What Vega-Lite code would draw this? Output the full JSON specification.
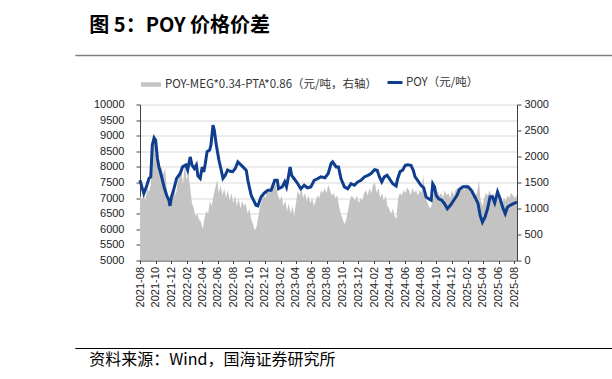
{
  "$schema": "https://vega.github.io/schema/vega-lite/v6.json",
  "background": "white",
  "padding": {"left": 74, "top": 15.5, "right": 0, "bottom": 5},
  "spacing": 13,
  "columns": 1,
  "align": "none",
  "config": {"axisX": {"labelOverlap": false}},
  "datasets": {
    "poy": [
      {"d":"2021-08-01","v":7575},{"d":"2021-08-10","v":7310},{"d":"2021-08-16","v":7150},{"d":"2021-08-26","v":7360},
      {"d":"2021-09-05","v":7630},{"d":"2021-09-12","v":7680},{"d":"2021-09-18","v":8700},{"d":"2021-09-25","v":8930},
      {"d":"2021-10-01","v":8860},{"d":"2021-10-08","v":8270},{"d":"2021-10-14","v":8000},{"d":"2021-10-23","v":7730},
      {"d":"2021-11-03","v":7360},{"d":"2021-11-13","v":7090},{"d":"2021-11-22","v":6930},{"d":"2021-11-26","v":6750},
      {"d":"2021-12-02","v":7040},{"d":"2021-12-12","v":7310},{"d":"2021-12-22","v":7630},{"d":"2022-01-05","v":7790},
      {"d":"2022-01-14","v":8000},{"d":"2022-01-27","v":8060},{"d":"2022-02-03","v":7900},{"d":"2022-02-13","v":8320},
      {"d":"2022-02-20","v":8060},{"d":"2022-03-01","v":7950},{"d":"2022-03-09","v":8060},{"d":"2022-03-15","v":7710},
      {"d":"2022-03-24","v":7630},{"d":"2022-04-01","v":8000},{"d":"2022-04-07","v":7840},{"d":"2022-04-13","v":8110},
      {"d":"2022-04-20","v":8490},{"d":"2022-04-30","v":8540},{"d":"2022-05-05","v":8700},{"d":"2022-05-13","v":9340},
      {"d":"2022-05-18","v":9180},{"d":"2022-05-26","v":8700},{"d":"2022-06-05","v":8220},{"d":"2022-06-14","v":7900},
      {"d":"2022-06-21","v":7630},{"d":"2022-06-30","v":7730},{"d":"2022-07-09","v":7900},{"d":"2022-07-19","v":7860},
      {"d":"2022-07-29","v":7850},{"d":"2022-08-08","v":7950},{"d":"2022-08-18","v":8160},{"d":"2022-09-07","v":8000},
      {"d":"2022-09-20","v":7890},{"d":"2022-09-26","v":7570},{"d":"2022-10-09","v":7090},{"d":"2022-10-28","v":6770},
      {"d":"2022-11-04","v":6750},{"d":"2022-11-17","v":7040},{"d":"2022-11-30","v":7165},{"d":"2022-12-13","v":7250},
      {"d":"2022-12-26","v":7250},{"d":"2023-01-09","v":7570},{"d":"2023-01-19","v":7570},{"d":"2023-01-24","v":7300},
      {"d":"2023-02-07","v":7360},{"d":"2023-02-17","v":7520},{"d":"2023-02-24","v":7360},{"d":"2023-03-02","v":7620},
      {"d":"2023-03-10","v":8000},{"d":"2023-03-16","v":7730},{"d":"2023-03-26","v":7620},{"d":"2023-04-09","v":7460},
      {"d":"2023-04-21","v":7300},{"d":"2023-05-04","v":7410},{"d":"2023-05-17","v":7330},{"d":"2023-05-30","v":7360},
      {"d":"2023-06-12","v":7570},{"d":"2023-06-25","v":7620},{"d":"2023-07-08","v":7680},{"d":"2023-07-24","v":7650},
      {"d":"2023-08-06","v":7790},{"d":"2023-08-17","v":8110},{"d":"2023-08-23","v":8160},{"d":"2023-09-06","v":8000},
      {"d":"2023-09-15","v":8000},{"d":"2023-09-25","v":7620},{"d":"2023-10-08","v":7360},{"d":"2023-10-21","v":7300},
      {"d":"2023-11-03","v":7460},{"d":"2023-11-16","v":7410},{"d":"2023-11-29","v":7520},{"d":"2023-12-12","v":7570},
      {"d":"2023-12-25","v":7680},{"d":"2024-01-08","v":7730},{"d":"2024-01-20","v":7790},{"d":"2024-02-03","v":7910},
      {"d":"2024-02-13","v":7890},{"d":"2024-02-22","v":7680},{"d":"2024-03-02","v":7520},{"d":"2024-03-12","v":7680},
      {"d":"2024-03-23","v":7730},{"d":"2024-04-01","v":7620},{"d":"2024-04-14","v":7460},{"d":"2024-04-27","v":7390},
      {"d":"2024-05-03","v":7620},{"d":"2024-05-13","v":7860},{"d":"2024-05-22","v":7890},{"d":"2024-06-02","v":8050},
      {"d":"2024-06-11","v":8070},{"d":"2024-06-24","v":8050},{"d":"2024-07-03","v":7890},{"d":"2024-07-10","v":7680},
      {"d":"2024-07-20","v":7570},{"d":"2024-08-02","v":7410},{"d":"2024-08-13","v":7330},{"d":"2024-08-22","v":7040},
      {"d":"2024-09-01","v":6980},{"d":"2024-09-11","v":6930},{"d":"2024-09-17","v":7460},{"d":"2024-09-24","v":7360},
      {"d":"2024-09-30","v":7090},{"d":"2024-10-10","v":6980},{"d":"2024-10-22","v":6930},{"d":"2024-11-02","v":6820},
      {"d":"2024-11-13","v":6660},{"d":"2024-11-25","v":6770},{"d":"2024-12-08","v":6930},{"d":"2024-12-21","v":7090},
      {"d":"2024-12-30","v":7280},{"d":"2025-01-13","v":7360},{"d":"2025-02-02","v":7360},{"d":"2025-02-15","v":7250},
      {"d":"2025-02-25","v":7090},{"d":"2025-03-04","v":6980},{"d":"2025-03-13","v":6820},{"d":"2025-03-21","v":6450},
      {"d":"2025-03-30","v":6230},{"d":"2025-04-09","v":6390},{"d":"2025-04-19","v":6660},{"d":"2025-04-29","v":7040},
      {"d":"2025-05-08","v":7040},{"d":"2025-05-17","v":6850},{"d":"2025-05-28","v":7200},{"d":"2025-06-07","v":6980},
      {"d":"2025-06-17","v":6710},{"d":"2025-06-27","v":6500},{"d":"2025-07-06","v":6710},{"d":"2025-07-16","v":6770},
      {"d":"2025-07-29","v":6820},{"d":"2025-08-12","v":6870}
    ],
    "spread": [
      {"d":"2021-08-01","s":1250},{"d":"2021-08-08","s":1180},{"d":"2021-08-15","s":1300},{"d":"2021-08-22","s":1150},
      {"d":"2021-08-29","s":1380},{"d":"2021-09-05","s":1320},{"d":"2021-09-12","s":1450},{"d":"2021-09-19","s":2100},
      {"d":"2021-09-26","s":2450},{"d":"2021-10-03","s":2200},{"d":"2021-10-10","s":1950},{"d":"2021-10-17","s":1700},
      {"d":"2021-10-24","s":1800},{"d":"2021-10-31","s":1650},{"d":"2021-11-07","s":1780},{"d":"2021-11-14","s":1350},
      {"d":"2021-11-21","s":1150},{"d":"2021-11-28","s":1000},{"d":"2021-12-05","s":1300},{"d":"2021-12-12","s":1420},
      {"d":"2021-12-19","s":1250},{"d":"2021-12-26","s":1500},{"d":"2022-01-02","s":1620},{"d":"2022-01-09","s":1700},
      {"d":"2022-01-16","s":1480},{"d":"2022-01-23","s":1850},{"d":"2022-01-30","s":1550},{"d":"2022-02-06","s":1700},
      {"d":"2022-02-13","s":1400},{"d":"2022-02-20","s":1100},{"d":"2022-02-27","s":1000},{"d":"2022-03-06","s":850},
      {"d":"2022-03-13","s":900},{"d":"2022-03-20","s":780},{"d":"2022-03-27","s":750},{"d":"2022-04-03","s":600},
      {"d":"2022-04-10","s":820},{"d":"2022-04-17","s":950},{"d":"2022-04-24","s":900},{"d":"2022-05-01","s":1150},
      {"d":"2022-05-08","s":1050},{"d":"2022-05-15","s":1250},{"d":"2022-05-22","s":1400},{"d":"2022-05-29","s":1550},
      {"d":"2022-06-05","s":1300},{"d":"2022-06-12","s":1450},{"d":"2022-06-19","s":1250},{"d":"2022-06-26","s":1380},
      {"d":"2022-07-03","s":1200},{"d":"2022-07-10","s":1350},{"d":"2022-07-17","s":1150},{"d":"2022-07-24","s":1300},
      {"d":"2022-07-31","s":1100},{"d":"2022-08-07","s":1250},{"d":"2022-08-14","s":1050},{"d":"2022-08-21","s":1200},
      {"d":"2022-08-28","s":1000},{"d":"2022-09-04","s":1150},{"d":"2022-09-11","s":1050},{"d":"2022-09-18","s":1100},
      {"d":"2022-09-25","s":900},{"d":"2022-10-02","s":1000},{"d":"2022-10-09","s":800},{"d":"2022-10-16","s":700},
      {"d":"2022-10-23","s":580},{"d":"2022-10-30","s":650},{"d":"2022-11-06","s":850},{"d":"2022-11-13","s":1050},
      {"d":"2022-11-20","s":1150},{"d":"2022-11-27","s":1250},{"d":"2022-12-04","s":1200},{"d":"2022-12-11","s":1350},
      {"d":"2022-12-18","s":1300},{"d":"2022-12-25","s":1400},{"d":"2023-01-01","s":1450},{"d":"2023-01-08","s":1550},
      {"d":"2023-01-15","s":1400},{"d":"2023-01-22","s":1250},{"d":"2023-01-29","s":1150},{"d":"2023-02-05","s":1250},
      {"d":"2023-02-12","s":1050},{"d":"2023-02-19","s":1150},{"d":"2023-02-26","s":950},{"d":"2023-03-05","s":1100},
      {"d":"2023-03-12","s":900},{"d":"2023-03-19","s":1050},{"d":"2023-03-26","s":850},{"d":"2023-04-02","s":1100},
      {"d":"2023-04-09","s":1350},{"d":"2023-04-16","s":1250},{"d":"2023-04-23","s":1400},{"d":"2023-04-30","s":1200},
      {"d":"2023-05-07","s":1300},{"d":"2023-05-14","s":1150},{"d":"2023-05-21","s":1250},{"d":"2023-05-28","s":1100},
      {"d":"2023-06-04","s":1200},{"d":"2023-06-11","s":1050},{"d":"2023-06-18","s":1150},{"d":"2023-06-25","s":1250},
      {"d":"2023-07-02","s":1200},{"d":"2023-07-09","s":1350},{"d":"2023-07-16","s":1300},{"d":"2023-07-23","s":1400},
      {"d":"2023-07-30","s":1300},{"d":"2023-08-06","s":1450},{"d":"2023-08-13","s":1350},{"d":"2023-08-20","s":1250},
      {"d":"2023-08-27","s":1300},{"d":"2023-09-03","s":1200},{"d":"2023-09-10","s":1250},{"d":"2023-09-17","s":1050},
      {"d":"2023-09-24","s":900},{"d":"2023-10-01","s":800},{"d":"2023-10-08","s":700},{"d":"2023-10-15","s":780},
      {"d":"2023-10-22","s":950},{"d":"2023-10-29","s":1150},{"d":"2023-11-05","s":1250},{"d":"2023-11-12","s":1200},
      {"d":"2023-11-19","s":1150},{"d":"2023-11-26","s":1250},{"d":"2023-12-03","s":1100},{"d":"2023-12-10","s":1200},
      {"d":"2023-12-17","s":1150},{"d":"2023-12-24","s":1300},{"d":"2023-12-31","s":1350},{"d":"2024-01-07","s":1250},
      {"d":"2024-01-14","s":1400},{"d":"2024-01-21","s":1300},{"d":"2024-01-28","s":1450},{"d":"2024-02-04","s":1500},
      {"d":"2024-02-11","s":1300},{"d":"2024-02-18","s":1400},{"d":"2024-02-25","s":1200},{"d":"2024-03-03","s":1300},
      {"d":"2024-03-10","s":1150},{"d":"2024-03-17","s":1250},{"d":"2024-03-24","s":1050},{"d":"2024-03-31","s":1000},
      {"d":"2024-04-07","s":900},{"d":"2024-04-14","s":1000},{"d":"2024-04-21","s":850},{"d":"2024-04-28","s":800},
      {"d":"2024-05-05","s":1200},{"d":"2024-05-12","s":1300},{"d":"2024-05-19","s":1250},{"d":"2024-05-26","s":1350},
      {"d":"2024-06-02","s":1300},{"d":"2024-06-09","s":1400},{"d":"2024-06-16","s":1350},{"d":"2024-06-23","s":1250},
      {"d":"2024-06-30","s":1400},{"d":"2024-07-07","s":1300},{"d":"2024-07-14","s":1350},{"d":"2024-07-21","s":1250},
      {"d":"2024-07-28","s":1350},{"d":"2024-08-04","s":1300},{"d":"2024-08-11","s":1650},{"d":"2024-08-18","s":1250},
      {"d":"2024-08-25","s":1150},{"d":"2024-09-01","s":1050},{"d":"2024-09-08","s":1000},{"d":"2024-09-15","s":1100},
      {"d":"2024-09-22","s":1300},{"d":"2024-09-29","s":1200},{"d":"2024-10-06","s":1350},{"d":"2024-10-13","s":1250},
      {"d":"2024-10-20","s":1300},{"d":"2024-10-27","s":1200},{"d":"2024-11-03","s":1350},{"d":"2024-11-10","s":1250},
      {"d":"2024-11-17","s":1300},{"d":"2024-11-24","s":1200},{"d":"2024-12-01","s":1350},{"d":"2024-12-08","s":1250},
      {"d":"2024-12-15","s":1350},{"d":"2024-12-22","s":1400},{"d":"2024-12-29","s":1300},{"d":"2025-01-05","s":1450},
      {"d":"2025-01-12","s":1400},{"d":"2025-01-19","s":1350},{"d":"2025-01-26","s":1500},{"d":"2025-02-02","s":1400},
      {"d":"2025-02-09","s":1350},{"d":"2025-02-16","s":1300},{"d":"2025-02-23","s":1350},{"d":"2025-03-02","s":1250},
      {"d":"2025-03-09","s":1300},{"d":"2025-03-16","s":1550},{"d":"2025-03-23","s":1150},{"d":"2025-03-30","s":1050},
      {"d":"2025-04-06","s":1200},{"d":"2025-04-13","s":1300},{"d":"2025-04-20","s":1250},{"d":"2025-04-27","s":1350},
      {"d":"2025-05-04","s":1250},{"d":"2025-05-11","s":1300},{"d":"2025-05-18","s":1200},{"d":"2025-05-25","s":1150},
      {"d":"2025-06-01","s":1250},{"d":"2025-06-08","s":1150},{"d":"2025-06-15","s":1100},{"d":"2025-06-22","s":1200},
      {"d":"2025-06-29","s":1150},{"d":"2025-07-06","s":1250},{"d":"2025-07-13","s":1200},{"d":"2025-07-20","s":1300},
      {"d":"2025-07-27","s":1250},{"d":"2025-08-03","s":1200},{"d":"2025-08-12","s":1250}
    ],
    "frame": [{"h0": -0.1716, "h1": 1.2555}]
  },
  "concat": [
    {
      "width": 377,
      "height": 10,
      "view": {"stroke": null},
      "title": {"text": "图 5：POY 价格价差", "anchor": "start", "frame": "group", "orient": "top", "font": "Noto Sans CJK SC", "fontSize": 20, "fontWeight": "bold", "color": "#000000", "offset": 15, "dx": -50.7},
      "data": {"name": "frame"},
      "mark": {"type": "rule", "color": "#7f7f7f", "strokeWidth": 1.6, "clip": false},
      "encoding": {
        "x": {"field": "h0", "type": "quantitative", "scale": {"domain": [0, 1], "nice": false, "zero": false}, "axis": null},
        "x2": {"field": "h1"}
      }
    },
    {
      "width": 377,
      "height": 156,
      "view": {"stroke": null},
      "encoding": {
        "x": {
          "field": "d", "type": "temporal",
          "scale": {"type": "utc", "domain": [{"year": 2021, "month": 8, "date": 1, "utc": true}, {"year": 2025, "month": 8, "date": 12, "utc": true}]},
          "axis": {
            "title": null, "grid": false, "format": "%Y-%m", "labelAngle": 270, "labelOverlap": false,
            "values": [
              {"year": 2021, "month": 8, "date": 1, "utc": true}, {"year": 2021, "month": 10, "date": 1, "utc": true}, {"year": 2021, "month": 12, "date": 1, "utc": true},
              {"year": 2022, "month": 2, "date": 1, "utc": true}, {"year": 2022, "month": 4, "date": 1, "utc": true}, {"year": 2022, "month": 6, "date": 1, "utc": true},
              {"year": 2022, "month": 8, "date": 1, "utc": true}, {"year": 2022, "month": 10, "date": 1, "utc": true}, {"year": 2022, "month": 12, "date": 1, "utc": true},
              {"year": 2023, "month": 2, "date": 1, "utc": true}, {"year": 2023, "month": 4, "date": 1, "utc": true}, {"year": 2023, "month": 6, "date": 1, "utc": true},
              {"year": 2023, "month": 8, "date": 1, "utc": true}, {"year": 2023, "month": 10, "date": 1, "utc": true}, {"year": 2023, "month": 12, "date": 1, "utc": true},
              {"year": 2024, "month": 2, "date": 1, "utc": true}, {"year": 2024, "month": 4, "date": 1, "utc": true}, {"year": 2024, "month": 6, "date": 1, "utc": true},
              {"year": 2024, "month": 8, "date": 1, "utc": true}, {"year": 2024, "month": 10, "date": 1, "utc": true}, {"year": 2024, "month": 12, "date": 1, "utc": true},
              {"year": 2025, "month": 2, "date": 1, "utc": true}, {"year": 2025, "month": 4, "date": 1, "utc": true}, {"year": 2025, "month": 6, "date": 1, "utc": true},
              {"year": 2025, "month": 8, "date": 1, "utc": true}
            ],
            "tickSize": 3, "labelPadding": 3, "domainColor": "#404040", "tickColor": "#404040",
            "labelColor": "#222222", "labelFont": "Liberation Sans", "labelFontSize": 11, "minExtent": 70
          }
        }
      },
      "layer": [
        {
          "data": {"name": "spread"},
          "mark": {"type": "area", "interpolate": "linear"},
          "encoding": {
            "y": {
              "field": "s", "type": "quantitative",
              "scale": {"domain": [0, 3000], "nice": false},
              "axis": {
                "orient": "right", "title": null, "grid": false, "format": "d", "values": [0, 500, 1000, 1500, 2000, 2500, 3000],
                "tickSize": 4, "labelPadding": 3, "domainColor": "#404040", "tickColor": "#404040",
                "labelColor": "#222222", "labelFont": "Liberation Sans", "labelFontSize": 11
              }
            },
            "fill": {
              "datum": "POY-MEG*0.34-PTA*0.86（元/吨，右轴）",
              "scale": {"range": ["#c3c3c3"]},
              "legend": {
                "orient": "top", "title": null, "symbolType": "M-1,-0.22H1V0.22H-1Z", "symbolSize": 400,
                "labelFont": "Noto Sans CJK SC", "labelFontSize": 11.5, "labelColor": "#333333", "labelLimit": 400,
                "labelOffset": 3, "offset": 14
              }
            }
          }
        },
        {
          "data": {"name": "poy"},
          "mark": {"type": "line", "strokeWidth": 3, "interpolate": "linear"},
          "encoding": {
            "y": {
              "field": "v", "type": "quantitative",
              "scale": {"domain": [5000, 10000], "nice": false, "zero": false},
              "axis": {
                "orient": "left", "title": null, "grid": true, "gridColor": "#d9d9d9", "format": "d",
                "values": [5000, 5500, 6000, 6500, 7000, 7500, 8000, 8500, 9000, 9500, 10000],
                "tickSize": 4, "labelPadding": 12, "domainColor": "#404040", "tickColor": "#404040",
                "labelColor": "#222222", "labelFont": "Liberation Sans", "labelFontSize": 11, "minExtent": 64.7
              }
            },
            "stroke": {
              "datum": "POY（元/吨）",
              "scale": {"range": ["#0f3e8e"]},
              "legend": {
                "orient": "top", "title": null, "symbolType": "stroke", "symbolSize": 225, "symbolStrokeWidth": 3,
                "labelFont": "Noto Sans CJK SC", "labelFontSize": 11.5, "labelColor": "#333333", "labelLimit": 400,
                "labelOffset": 2, "offset": 14
              }
            }
          }
        }
      ],
      "resolve": {"scale": {"y": "independent", "fill": "independent", "stroke": "independent"}}
    },
    {
      "width": 377,
      "height": 10,
      "view": {"stroke": null},
      "title": {"text": "资料来源：Wind，国海证券研究所", "anchor": "start", "frame": "group", "orient": "bottom", "font": "Noto Sans CJK SC", "fontSize": 16, "fontWeight": "normal", "color": "#000000", "offset": -2, "dx": -50.7},
      "data": {"name": "frame"},
      "mark": {"type": "rule", "color": "#000000", "strokeWidth": 1.2, "clip": false},
      "encoding": {
        "x": {"field": "h0", "type": "quantitative", "scale": {"domain": [0, 1], "nice": false, "zero": false}, "axis": null},
        "x2": {"field": "h1"}
      }
    }
  ],
  "resolve": {"scale": {"x": "independent"}}
}
